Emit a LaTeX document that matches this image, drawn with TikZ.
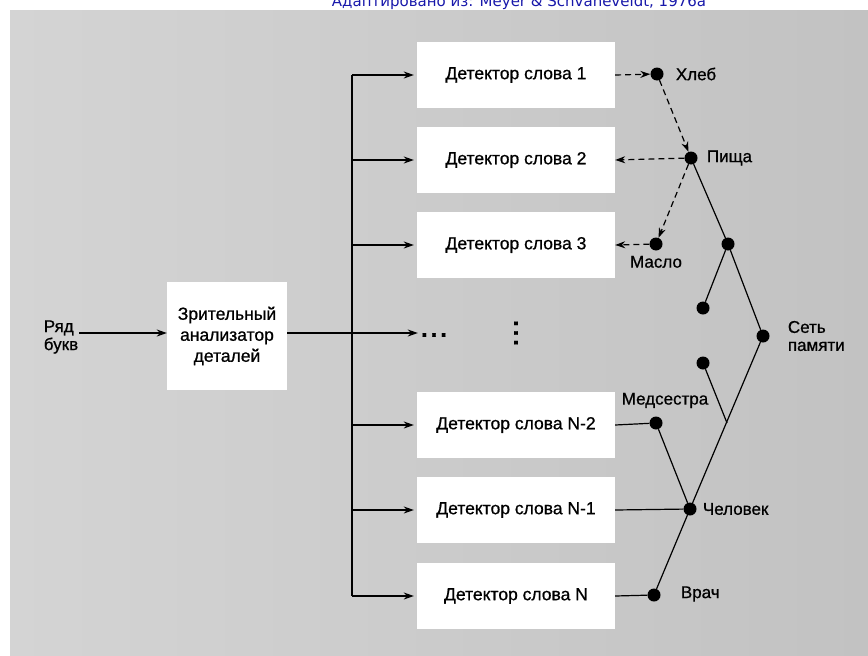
\documentclass[tikz,border=0pt]{standalone}
\usepackage{fontspec}
\setmainfont{Liberation Sans}[FakeBold=0.8]
\newfontfamily\titlefont{DejaVu Sans}
\usepackage{xcolor}
\usetikzlibrary{arrows.meta,positioning,calc}
\definecolor{paperlight}{RGB}{212,212,212}
\definecolor{paperdark}{RGB}{194,194,194}
\definecolor{titleblue}{RGB}{24,24,170}

\begin{document}
\begin{tikzpicture}[x=1pt,y=-1pt,>={Stealth[length=10pt,width=7pt]},
  detector/.style={fill=white,minimum width=198pt,minimum height=66pt,inner sep=0pt,
    font=\fontsize{17.5}{20}\selectfont},
  dot/.style={circle,fill=black,minimum size=13pt,inner sep=0pt},
  lbl/.style={font=\fontsize{17}{18}\selectfont,inner sep=1pt},
  link/.style={line width=1.2pt},
  weak/.style={line width=1.2pt,dash pattern=on 6pt off 4pt}]
  \useasboundingbox (0,0) rectangle (868,656);
  \shade[left color=paperlight,right color=paperdark] (10,10) rectangle (868,656);
  \begin{scope}
    \clip (0,0) rectangle (868,10);
    \node[anchor=base,text=titleblue,font=\titlefont\fontsize{15}{18}\selectfont] (source) at (519,6)
      {Адаптировано из: Meyer \& Schvaneveldt, 1976a};
  \end{scope}

  % input side
  \node[lbl,align=left] (letters) at (61,337) {Ряд\\букв};
  \node[fill=white,minimum width=120pt,minimum height=108pt,align=center,
    font=\fontsize{17.5}{21}\selectfont] (analyzer) at (227,336) {Зрительный\\анализатор\\деталей};
  \draw[link,->] (letters.east |- 0,333) -- (analyzer.west |- 0,333);

  % word detectors
  \node[detector] (det1) at (516,75) {Детектор слова 1};
  \node[detector] (det2) at (516,160) {Детектор слова 2};
  \node[detector] (det3) at (516,245) {Детектор слова 3};
  \node[detector] (det4) at (516,425) {Детектор слова N-2};
  \node[detector] (det5) at (516,510) {Детектор слова N-1};
  \node[detector] (det6) at (516,596) {Детектор слова N};
  \node[font=\bfseries\fontsize{24}{24}\selectfont,inner sep=0pt] (hdots) at (434,335) {.\kern3pt.\kern3pt.};
  \node[font=\bfseries\fontsize{24}{24}\selectfont,inner sep=0pt,rotate=90] (vdots) at (516,333) {.\kern3pt.\kern3pt.};

  \coordinate (bustop) at (352,75);
  \coordinate (busbottom) at (352,596);
  \draw[link] (bustop) -- (busbottom);
  \draw[link,->] (analyzer.east |- 0,333) -- ([xshift=-3pt]hdots.west |- 0,333);
  \foreach \d in {det1,det2,det3,det4,det5,det6}
    \draw[link,->,shorten >=3pt] (bustop |- \d.west) -- (\d.west);

  % memory network
  \node[dot] (bread) at (657,74) {};
  \node[dot] (food) at (691,158) {};
  \node[dot] (butter) at (656,244) {};
  \node[dot] (hubA) at (728,244) {};
  \node[dot] (hubB) at (703,308) {};
  \node[dot] (memory) at (763,336) {};
  \node[dot] (hubC) at (703,363) {};
  \coordinate (join) at (727,423);
  \node[dot] (nurse) at (656,423) {};
  \node[dot] (human) at (690,509) {};
  \node[dot] (doctor) at (654,595) {};

  \node[lbl,right=11pt of bread] (breadlbl) {Хлеб};
  \node[lbl,right=8pt of food] (foodlbl) {Пища};
  \node[lbl,below=4pt of butter] (butterlbl) {Масло};
  \node[lbl,right=17pt of memory,align=left] (memorylbl) {Сеть\\памяти};
  \node[lbl,above=7pt of nurse,xshift=9pt] (nurselbl) {Медсестра};
  \node[lbl,right=5pt of human] (humanlbl) {Человек};
  \node[lbl,right=19pt of doctor,yshift=1pt] (doctorlbl) {Врач};

  \draw[weak,->] (det1.east) -- (bread);
  \draw[weak,->] (bread) -- (food);
  \draw[weak,->] (food) -- (det2.east);
  \draw[weak,->] (food) -- (butter);
  \draw[weak,->] (butter) -- (det3.east);

  \draw[link] (food) -- (hubA);
  \draw[link] (hubA) -- (hubB);
  \draw[link] (hubA) -- (memory);
  \draw[link] (memory) -- (human);
  \draw[link] (hubC) -- (join);
  \draw[link] (nurse) -- (human);
  \draw[link] (human) -- (doctor);
  \draw[link] (det4.east) -- (nurse);
  \draw[link] (det5.east) -- (human);
  \draw[link] (det6.east) -- (doctor);
\end{tikzpicture}
\end{document}
